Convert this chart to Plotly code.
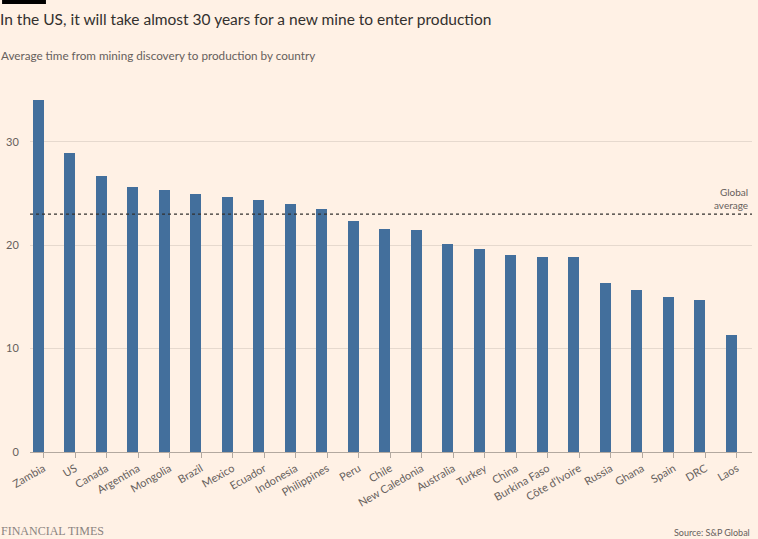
import plotly.graph_objects as go

countries = ["Zambia", "US", "Canada", "Argentina", "Mongolia", "Brazil", "Mexico",
             "Ecuador", "Indonesia", "Philippines", "Peru", "Chile", "New Caledonia",
             "Australia", "Turkey", "China", "Burkina Faso", "Côte d'Ivoire", "Russia",
             "Ghana", "Spain", "DRC", "Laos"]
years = [34.0, 28.9, 26.7, 25.6, 25.3, 24.9, 24.7, 24.4, 24.0, 23.5, 22.3, 21.6, 21.5,
         20.1, 19.6, 19.0, 18.9, 18.9, 16.3, 15.7, 15.0, 14.7, 11.3]
global_average = 23.0
y_ticks = [0, 10, 20, 30]

BG = "#FFF1E5"
BAR = "#436f9c"
GREY = "#66605C"
GRID = "#E6D9CE"

fig = go.Figure()
fig.add_trace(go.Bar(
    x=countries, y=years, marker=dict(color=BAR, line=dict(width=0)),
    width=0.35, offset=-0.35, hoverinfo="x+y",
))
fig.add_shape(type="line", xref="paper", yref="y", x0=0, x1=1,
              y0=global_average, y1=global_average,
              line=dict(color="#33302E", width=1.3, dash="dot"))
# FT black tag
fig.add_shape(type="rect", xref="paper", yref="paper", x0=-28/724, x1=16/724,
              y0=1 + 86/362, y1=1 + 90/362, fillcolor="#000000", line=dict(width=0))

fig.update_layout(
    width=758, height=539,
    margin=dict(l=28, r=6, t=90, b=87),
    paper_bgcolor=BG, plot_bgcolor=BG,
    showlegend=False, bargap=0,
    title=dict(text="In the US, it will take almost 30 years for a new mine to enter production",
               x=0, xref="container", xanchor="left", y=1 - 20/539, yanchor="middle",
               pad=dict(l=0),
               font=dict(family="Lato", size=15.5, color="#33302E")),
    xaxis=dict(type="category", range=[-0.43, 22.48], tickangle=-30,
               ticks="outside", ticklen=5, tickcolor="#B3A9A0", tickwidth=1,
               showline=True, linecolor="#B3A9A0", linewidth=1,
               showgrid=False, tickfont=dict(family="Lato", size=11, color=GREY)),
    yaxis=dict(range=[0, 35], tickvals=y_ticks, showgrid=True, gridcolor=GRID,
               gridwidth=1, zeroline=False, ticks="outside", ticklen=8,
               tickcolor="rgba(0,0,0,0)",
               tickfont=dict(family="Lato", size=11, color=GREY)),
)
fig.add_annotation(xref="paper", yref="y", x=0.997, y=global_average,
                   text="Global<br>average", showarrow=False,
                   xanchor="right", yanchor="bottom", align="right", yshift=1,
                   font=dict(family="Lato", size=10, color=GREY))
fig.add_annotation(xref="paper", yref="paper", x=-31/724, y=1 + 35/362,
                   text="Average time from mining discovery to production by country",
                   showarrow=False, xanchor="left", yanchor="middle",
                   font=dict(family="Lato", size=11.7, color=GREY))
fig.add_annotation(xref="paper", yref="paper", x=-31/724, y=-(531 - 452)/362,
                   text="FINANCIAL TIMES", showarrow=False, xanchor="left", yanchor="middle",
                   font=dict(family="Liberation Serif", size=12, color="#8A8380"))
fig.add_annotation(xref="paper", yref="paper", x=1, y=-(532 - 452)/362,
                   text="Source: S&P Global", showarrow=False, xanchor="right", yanchor="middle",
                   font=dict(family="Lato", size=9, color=GREY))
fig.write_html("out.html")
